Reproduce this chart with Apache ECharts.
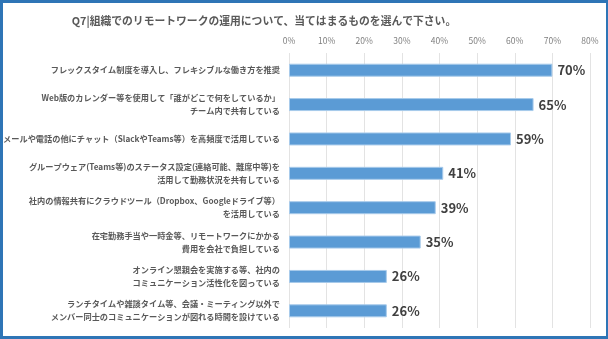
<!DOCTYPE html>
<html><head><meta charset="utf-8">
<script src="https://cdn.jsdelivr.net/npm/echarts@6/dist/echarts.min.js"></script>
<style>
html,body{margin:0;padding:0;background:#fff;}
#frame{position:absolute;left:0;top:0;width:608px;height:339px;box-sizing:border-box;border-style:solid;border-color:#2e75b6;border-width:3px 2px 3px 3px;background:#fff;}
#chart{position:absolute;left:0;top:0;width:608px;height:339px;}
</style></head>
<body>
<div id="frame"></div>
<div id="chart"></div>
<script>
const titleText = 'Q7|組織でのリモートワークの運用について、当てはまるものを選んで下さい。';
const categories = [
  'フレックスタイム制度を導入し、フレキシブルな働き方を推奨',
  'Web版のカレンダー等を使用して「誰がどこで何をしているか」\nチーム内で共有している',
  'メールや電話の他にチャット（SlackやTeams等）を高頻度で活用している',
  'グループウェア(Teams等)のステータス設定(連絡可能、離席中等)を\n活用して勤務状況を共有している',
  '社内の情報共有にクラウドツール（Dropbox、Googleドライブ等）\nを活用している',
  '在宅勤務手当や一時金等、リモートワークにかかる\n費用を会社で負担している',
  'オンライン懇親会を実施する等、社内の\nコミュニケーション活性化を図っている',
  'ランチタイムや雑談タイム等、会議・ミーティング以外で\nメンバー同士のコミュニケーションが図れる時間を設けている'
];
const values = [70, 65, 59, 41, 39, 35, 26, 26];
const axisMax = 80;
const axisStep = 10;

const font = '"Noto Sans CJK JP", "Noto Sans", sans-serif';
const chart = echarts.init(document.getElementById('chart'), null, {renderer: 'canvas'});
chart.setOption({
  animation: false,
  backgroundColor: 'transparent',
  title: {
    text: titleText,
    left: 259, top: 11, textAlign: 'center',
    textStyle: {fontFamily: font, fontSize: 10.8, fontWeight: 'bold', color: '#595959'}
  },
  grid: {left: 289, right: 18, top: 53, bottom: 11},
  xAxis: {
    type: 'value', position: 'top', min: 0, max: axisMax, interval: axisStep,
    axisLine: {show: false}, axisTick: {show: false},
    axisLabel: {formatter: '{value}%', fontFamily: font, fontSize: 8.5, color: '#7f7f7f', margin: 8},
    splitLine: {lineStyle: {color: '#e3e3e3', width: 1}}
  },
  yAxis: {
    type: 'category', data: categories, inverse: true,
    axisLine: {show: false}, axisTick: {show: false},
    axisLabel: {fontFamily: font, fontSize: 8.2, fontWeight: 'bold', color: '#595959', lineHeight: 13, margin: 9, align: 'right'}
  },
  series: [{
    type: 'bar', data: values, barWidth: 13,
    itemStyle: {color: '#5b9bd5', borderColor: '#a8cbeb', borderWidth: 1},
    label: {show: true, position: 'right', distance: 5, formatter: '{c}%',
      fontFamily: font, fontSize: 13, fontWeight: 'bold', color: '#404040'}
  }]
});
</script>
</body></html>
